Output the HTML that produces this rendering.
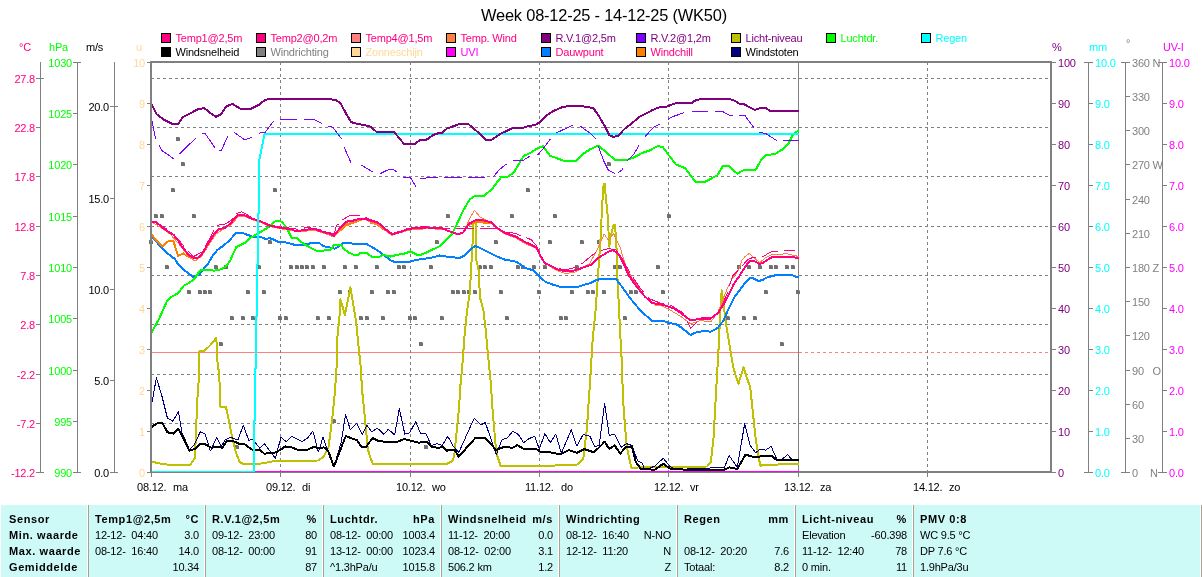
<!DOCTYPE html>
<html><head><meta charset="utf-8"><style>
html,body{margin:0;padding:0;background:#fff;width:1202px;height:577px;overflow:hidden}
svg{display:block;will-change:transform}
text{font-family:"Liberation Sans",sans-serif;letter-spacing:-0.2px}
text[font-weight="bold"]{letter-spacing:0.6px}
</style></head><body>
<svg width="1202" height="577" viewBox="0 0 1202 577">
<rect x="1" y="505" width="1201" height="72" fill="#CDFAF7"/>
<rect x="87" y="505" width="1" height="72" fill="#FFFFFF"/>
<rect x="88" y="505" width="1" height="72" fill="#A8A094"/>
<rect x="204" y="505" width="1" height="72" fill="#FFFFFF"/>
<rect x="205" y="505" width="1" height="72" fill="#A8A094"/>
<rect x="322" y="505" width="1" height="72" fill="#FFFFFF"/>
<rect x="323" y="505" width="1" height="72" fill="#A8A094"/>
<rect x="440" y="505" width="1" height="72" fill="#FFFFFF"/>
<rect x="441" y="505" width="1" height="72" fill="#A8A094"/>
<rect x="558" y="505" width="1" height="72" fill="#FFFFFF"/>
<rect x="559" y="505" width="1" height="72" fill="#A8A094"/>
<rect x="676" y="505" width="1" height="72" fill="#FFFFFF"/>
<rect x="677" y="505" width="1" height="72" fill="#A8A094"/>
<rect x="794" y="505" width="1" height="72" fill="#FFFFFF"/>
<rect x="795" y="505" width="1" height="72" fill="#A8A094"/>
<rect x="912" y="505" width="1" height="72" fill="#FFFFFF"/>
<rect x="913" y="505" width="1" height="72" fill="#A8A094"/>
<rect x="1200" y="505" width="1" height="72" fill="#FFFFFF"/>
<rect x="1201" y="505" width="1" height="72" fill="#A8A094"/>
<g shape-rendering="crispEdges">
<text x="604" y="21" fill="#000" text-anchor="middle" font-size="16.4" font-weight="normal" >Week 08-12-25 - 14-12-25 (WK50)</text>
<rect x="161.5" y="33.5" width="9" height="9" fill="#FF0080" stroke="#000" stroke-width="1"/>
<text x="175.5" y="42" fill="#FF0080" text-anchor="start" font-size="11" font-weight="normal" >Temp1@2,5m</text>
<rect x="256.5" y="33.5" width="9" height="9" fill="#FF0080" stroke="#000" stroke-width="1"/>
<text x="270.5" y="42" fill="#FF0080" text-anchor="start" font-size="11" font-weight="normal" >Temp2@0,2m</text>
<rect x="351.5" y="33.5" width="9" height="9" fill="#FF8080" stroke="#000" stroke-width="1"/>
<text x="365.5" y="42" fill="#FF0080" text-anchor="start" font-size="11" font-weight="normal" >Temp4@1,5m</text>
<rect x="446.5" y="33.5" width="9" height="9" fill="#FF8040" stroke="#000" stroke-width="1"/>
<text x="460.5" y="42" fill="#FF0080" text-anchor="start" font-size="11" font-weight="normal" >Temp. Wind</text>
<rect x="541.5" y="33.5" width="9" height="9" fill="#800080" stroke="#000" stroke-width="1"/>
<text x="555.5" y="42" fill="#800080" text-anchor="start" font-size="11" font-weight="normal" >R.V.1@2,5m</text>
<rect x="636.5" y="33.5" width="9" height="9" fill="#8000FF" stroke="#000" stroke-width="1"/>
<text x="650.5" y="42" fill="#800080" text-anchor="start" font-size="11" font-weight="normal" >R.V.2@1,2m</text>
<rect x="731.5" y="33.5" width="9" height="9" fill="#C0C000" stroke="#000" stroke-width="1"/>
<text x="745.5" y="42" fill="#800080" text-anchor="start" font-size="11" font-weight="normal" >Licht-niveau</text>
<rect x="826.5" y="33.5" width="9" height="9" fill="#00FF00" stroke="#000" stroke-width="1"/>
<text x="840.5" y="42" fill="#00FF00" text-anchor="start" font-size="11" font-weight="normal" >Luchtdr.</text>
<rect x="921.5" y="33.5" width="9" height="9" fill="#00FFFF" stroke="#000" stroke-width="1"/>
<text x="935.5" y="42" fill="#00FFFF" text-anchor="start" font-size="11" font-weight="normal" >Regen</text>
<rect x="161.5" y="47.5" width="9" height="9" fill="#000000" stroke="#000" stroke-width="1"/>
<text x="175.5" y="56" fill="#000" text-anchor="start" font-size="11" font-weight="normal" >Windsnelheid</text>
<rect x="256.5" y="47.5" width="9" height="9" fill="#808080" stroke="#000" stroke-width="1"/>
<text x="270.5" y="56" fill="#808080" text-anchor="start" font-size="11" font-weight="normal" >Windrichting</text>
<rect x="351.5" y="47.5" width="9" height="9" fill="#FFD898" stroke="#000" stroke-width="1"/>
<text x="365.5" y="56" fill="#FFD898" text-anchor="start" font-size="11" font-weight="normal" >Zonneschijn</text>
<rect x="446.5" y="47.5" width="9" height="9" fill="#FF00FF" stroke="#000" stroke-width="1"/>
<text x="460.5" y="56" fill="#FF00FF" text-anchor="start" font-size="11" font-weight="normal" >UVI</text>
<rect x="541.5" y="47.5" width="9" height="9" fill="#0080FF" stroke="#000" stroke-width="1"/>
<text x="555.5" y="56" fill="#FF0080" text-anchor="start" font-size="11" font-weight="normal" >Dauwpunt</text>
<rect x="636.5" y="47.5" width="9" height="9" fill="#FF8000" stroke="#000" stroke-width="1"/>
<text x="650.5" y="56" fill="#FF0080" text-anchor="start" font-size="11" font-weight="normal" >Windchill</text>
<rect x="731.5" y="47.5" width="9" height="9" fill="#000080" stroke="#000" stroke-width="1"/>
<text x="745.5" y="56" fill="#000" text-anchor="start" font-size="11" font-weight="normal" >Windstoten</text>
<line x1="152" y1="352.5" x2="799" y2="352.5" stroke="#FF8080" stroke-width="1" />
<line x1="799" y1="352.5" x2="1050" y2="352.5" stroke="#FF8080" stroke-width="1" stroke-dasharray="3 3"/>
<line x1="151" y1="78.5" x2="1050" y2="78.5" stroke="#808080" stroke-width="1" stroke-dasharray="3 3"/>
<line x1="151" y1="127.5" x2="1050" y2="127.5" stroke="#808080" stroke-width="1" stroke-dasharray="3 3"/>
<line x1="151" y1="176.5" x2="1050" y2="176.5" stroke="#808080" stroke-width="1" stroke-dasharray="3 3"/>
<line x1="151" y1="226.5" x2="1050" y2="226.5" stroke="#808080" stroke-width="1" stroke-dasharray="3 3"/>
<line x1="151" y1="275.5" x2="1050" y2="275.5" stroke="#808080" stroke-width="1" stroke-dasharray="3 3"/>
<line x1="151" y1="324.5" x2="1050" y2="324.5" stroke="#808080" stroke-width="1" stroke-dasharray="3 3"/>
<line x1="151" y1="374.5" x2="1050" y2="374.5" stroke="#808080" stroke-width="1" stroke-dasharray="3 3"/>
<line x1="151" y1="423.5" x2="1050" y2="423.5" stroke="#808080" stroke-width="1" stroke-dasharray="3 3"/>
<line x1="280.5" y1="62" x2="280.5" y2="471" stroke="#808080" stroke-width="1" stroke-dasharray="3 3"/>
<line x1="280.5" y1="473" x2="280.5" y2="477" stroke="#808080" stroke-width="1" />
<line x1="410.5" y1="62" x2="410.5" y2="471" stroke="#808080" stroke-width="1" stroke-dasharray="3 3"/>
<line x1="410.5" y1="473" x2="410.5" y2="477" stroke="#808080" stroke-width="1" />
<line x1="539.5" y1="62" x2="539.5" y2="471" stroke="#808080" stroke-width="1" stroke-dasharray="3 3"/>
<line x1="539.5" y1="473" x2="539.5" y2="477" stroke="#808080" stroke-width="1" />
<line x1="668.5" y1="62" x2="668.5" y2="471" stroke="#808080" stroke-width="1" stroke-dasharray="3 3"/>
<line x1="668.5" y1="473" x2="668.5" y2="477" stroke="#808080" stroke-width="1" />
<line x1="798.5" y1="63" x2="798.5" y2="477" stroke="#808080" stroke-width="1" />
<line x1="927.5" y1="62" x2="927.5" y2="471" stroke="#808080" stroke-width="1" stroke-dasharray="3 3"/>
<line x1="927.5" y1="473" x2="927.5" y2="477" stroke="#808080" stroke-width="1" />
<rect x="176" y="137" width="4" height="4" fill="#707070"/>
<rect x="179" y="137" width="1" height="1" fill="#B8B8B8"/>
<rect x="181" y="162" width="4" height="4" fill="#707070"/>
<rect x="184" y="162" width="1" height="1" fill="#B8B8B8"/>
<rect x="607" y="162" width="4" height="4" fill="#707070"/>
<rect x="610" y="162" width="1" height="1" fill="#B8B8B8"/>
<rect x="171" y="188" width="4" height="4" fill="#707070"/>
<rect x="174" y="188" width="1" height="1" fill="#B8B8B8"/>
<rect x="273" y="188" width="4" height="4" fill="#707070"/>
<rect x="276" y="188" width="1" height="1" fill="#B8B8B8"/>
<rect x="526" y="188" width="4" height="4" fill="#707070"/>
<rect x="529" y="188" width="1" height="1" fill="#B8B8B8"/>
<rect x="154" y="214" width="4" height="4" fill="#707070"/>
<rect x="157" y="214" width="1" height="1" fill="#B8B8B8"/>
<rect x="160" y="214" width="4" height="4" fill="#707070"/>
<rect x="163" y="214" width="1" height="1" fill="#B8B8B8"/>
<rect x="192" y="214" width="4" height="4" fill="#707070"/>
<rect x="195" y="214" width="1" height="1" fill="#B8B8B8"/>
<rect x="446" y="214" width="4" height="4" fill="#707070"/>
<rect x="449" y="214" width="1" height="1" fill="#B8B8B8"/>
<rect x="510" y="214" width="4" height="4" fill="#707070"/>
<rect x="513" y="214" width="1" height="1" fill="#B8B8B8"/>
<rect x="553" y="214" width="4" height="4" fill="#707070"/>
<rect x="556" y="214" width="1" height="1" fill="#B8B8B8"/>
<rect x="667" y="214" width="4" height="4" fill="#707070"/>
<rect x="670" y="214" width="1" height="1" fill="#B8B8B8"/>
<rect x="149" y="240" width="4" height="4" fill="#707070"/>
<rect x="152" y="240" width="1" height="1" fill="#B8B8B8"/>
<rect x="268" y="240" width="4" height="4" fill="#707070"/>
<rect x="271" y="240" width="1" height="1" fill="#B8B8B8"/>
<rect x="435" y="240" width="4" height="4" fill="#707070"/>
<rect x="438" y="240" width="1" height="1" fill="#B8B8B8"/>
<rect x="494" y="240" width="4" height="4" fill="#707070"/>
<rect x="497" y="240" width="1" height="1" fill="#B8B8B8"/>
<rect x="548" y="240" width="4" height="4" fill="#707070"/>
<rect x="551" y="240" width="1" height="1" fill="#B8B8B8"/>
<rect x="580" y="240" width="4" height="4" fill="#707070"/>
<rect x="583" y="240" width="1" height="1" fill="#B8B8B8"/>
<rect x="597" y="240" width="4" height="4" fill="#707070"/>
<rect x="600" y="240" width="1" height="1" fill="#B8B8B8"/>
<rect x="165" y="265" width="4" height="4" fill="#707070"/>
<rect x="168" y="265" width="1" height="1" fill="#B8B8B8"/>
<rect x="214" y="265" width="4" height="4" fill="#707070"/>
<rect x="217" y="265" width="1" height="1" fill="#B8B8B8"/>
<rect x="224" y="265" width="4" height="4" fill="#707070"/>
<rect x="227" y="265" width="1" height="1" fill="#B8B8B8"/>
<rect x="257" y="265" width="4" height="4" fill="#707070"/>
<rect x="260" y="265" width="1" height="1" fill="#B8B8B8"/>
<rect x="289" y="265" width="4" height="4" fill="#707070"/>
<rect x="292" y="265" width="1" height="1" fill="#B8B8B8"/>
<rect x="295" y="265" width="4" height="4" fill="#707070"/>
<rect x="298" y="265" width="1" height="1" fill="#B8B8B8"/>
<rect x="300" y="265" width="4" height="4" fill="#707070"/>
<rect x="303" y="265" width="1" height="1" fill="#B8B8B8"/>
<rect x="305" y="265" width="4" height="4" fill="#707070"/>
<rect x="308" y="265" width="1" height="1" fill="#B8B8B8"/>
<rect x="311" y="265" width="4" height="4" fill="#707070"/>
<rect x="314" y="265" width="1" height="1" fill="#B8B8B8"/>
<rect x="322" y="265" width="4" height="4" fill="#707070"/>
<rect x="325" y="265" width="1" height="1" fill="#B8B8B8"/>
<rect x="343" y="265" width="4" height="4" fill="#707070"/>
<rect x="346" y="265" width="1" height="1" fill="#B8B8B8"/>
<rect x="354" y="265" width="4" height="4" fill="#707070"/>
<rect x="357" y="265" width="1" height="1" fill="#B8B8B8"/>
<rect x="375" y="265" width="4" height="4" fill="#707070"/>
<rect x="378" y="265" width="1" height="1" fill="#B8B8B8"/>
<rect x="397" y="265" width="4" height="4" fill="#707070"/>
<rect x="400" y="265" width="1" height="1" fill="#B8B8B8"/>
<rect x="402" y="265" width="4" height="4" fill="#707070"/>
<rect x="405" y="265" width="1" height="1" fill="#B8B8B8"/>
<rect x="429" y="265" width="4" height="4" fill="#707070"/>
<rect x="432" y="265" width="1" height="1" fill="#B8B8B8"/>
<rect x="478" y="265" width="4" height="4" fill="#707070"/>
<rect x="481" y="265" width="1" height="1" fill="#B8B8B8"/>
<rect x="483" y="265" width="4" height="4" fill="#707070"/>
<rect x="486" y="265" width="1" height="1" fill="#B8B8B8"/>
<rect x="489" y="265" width="4" height="4" fill="#707070"/>
<rect x="492" y="265" width="1" height="1" fill="#B8B8B8"/>
<rect x="516" y="265" width="4" height="4" fill="#707070"/>
<rect x="519" y="265" width="1" height="1" fill="#B8B8B8"/>
<rect x="521" y="265" width="4" height="4" fill="#707070"/>
<rect x="524" y="265" width="1" height="1" fill="#B8B8B8"/>
<rect x="532" y="265" width="4" height="4" fill="#707070"/>
<rect x="535" y="265" width="1" height="1" fill="#B8B8B8"/>
<rect x="543" y="265" width="4" height="4" fill="#707070"/>
<rect x="546" y="265" width="1" height="1" fill="#B8B8B8"/>
<rect x="575" y="265" width="4" height="4" fill="#707070"/>
<rect x="578" y="265" width="1" height="1" fill="#B8B8B8"/>
<rect x="613" y="265" width="4" height="4" fill="#707070"/>
<rect x="616" y="265" width="1" height="1" fill="#B8B8B8"/>
<rect x="618" y="265" width="4" height="4" fill="#707070"/>
<rect x="621" y="265" width="1" height="1" fill="#B8B8B8"/>
<rect x="656" y="265" width="4" height="4" fill="#707070"/>
<rect x="659" y="265" width="1" height="1" fill="#B8B8B8"/>
<rect x="737" y="265" width="4" height="4" fill="#707070"/>
<rect x="740" y="265" width="1" height="1" fill="#B8B8B8"/>
<rect x="747" y="265" width="4" height="4" fill="#707070"/>
<rect x="750" y="265" width="1" height="1" fill="#B8B8B8"/>
<rect x="758" y="265" width="4" height="4" fill="#707070"/>
<rect x="761" y="265" width="1" height="1" fill="#B8B8B8"/>
<rect x="769" y="265" width="4" height="4" fill="#707070"/>
<rect x="772" y="265" width="1" height="1" fill="#B8B8B8"/>
<rect x="774" y="265" width="4" height="4" fill="#707070"/>
<rect x="777" y="265" width="1" height="1" fill="#B8B8B8"/>
<rect x="785" y="265" width="4" height="4" fill="#707070"/>
<rect x="788" y="265" width="1" height="1" fill="#B8B8B8"/>
<rect x="791" y="265" width="4" height="4" fill="#707070"/>
<rect x="794" y="265" width="1" height="1" fill="#B8B8B8"/>
<rect x="187" y="290" width="4" height="4" fill="#707070"/>
<rect x="190" y="290" width="1" height="1" fill="#B8B8B8"/>
<rect x="198" y="290" width="4" height="4" fill="#707070"/>
<rect x="201" y="290" width="1" height="1" fill="#B8B8B8"/>
<rect x="203" y="290" width="4" height="4" fill="#707070"/>
<rect x="206" y="290" width="1" height="1" fill="#B8B8B8"/>
<rect x="208" y="290" width="4" height="4" fill="#707070"/>
<rect x="211" y="290" width="1" height="1" fill="#B8B8B8"/>
<rect x="246" y="290" width="4" height="4" fill="#707070"/>
<rect x="249" y="290" width="1" height="1" fill="#B8B8B8"/>
<rect x="262" y="290" width="4" height="4" fill="#707070"/>
<rect x="265" y="290" width="1" height="1" fill="#B8B8B8"/>
<rect x="338" y="290" width="4" height="4" fill="#707070"/>
<rect x="341" y="290" width="1" height="1" fill="#B8B8B8"/>
<rect x="348" y="290" width="4" height="4" fill="#707070"/>
<rect x="351" y="290" width="1" height="1" fill="#B8B8B8"/>
<rect x="370" y="290" width="4" height="4" fill="#707070"/>
<rect x="373" y="290" width="1" height="1" fill="#B8B8B8"/>
<rect x="386" y="290" width="4" height="4" fill="#707070"/>
<rect x="389" y="290" width="1" height="1" fill="#B8B8B8"/>
<rect x="392" y="290" width="4" height="4" fill="#707070"/>
<rect x="395" y="290" width="1" height="1" fill="#B8B8B8"/>
<rect x="451" y="290" width="4" height="4" fill="#707070"/>
<rect x="454" y="290" width="1" height="1" fill="#B8B8B8"/>
<rect x="456" y="290" width="4" height="4" fill="#707070"/>
<rect x="459" y="290" width="1" height="1" fill="#B8B8B8"/>
<rect x="462" y="290" width="4" height="4" fill="#707070"/>
<rect x="465" y="290" width="1" height="1" fill="#B8B8B8"/>
<rect x="467" y="290" width="4" height="4" fill="#707070"/>
<rect x="470" y="290" width="1" height="1" fill="#B8B8B8"/>
<rect x="473" y="290" width="4" height="4" fill="#707070"/>
<rect x="476" y="290" width="1" height="1" fill="#B8B8B8"/>
<rect x="499" y="290" width="4" height="4" fill="#707070"/>
<rect x="502" y="290" width="1" height="1" fill="#B8B8B8"/>
<rect x="537" y="290" width="4" height="4" fill="#707070"/>
<rect x="540" y="290" width="1" height="1" fill="#B8B8B8"/>
<rect x="570" y="290" width="4" height="4" fill="#707070"/>
<rect x="573" y="290" width="1" height="1" fill="#B8B8B8"/>
<rect x="586" y="290" width="4" height="4" fill="#707070"/>
<rect x="589" y="290" width="1" height="1" fill="#B8B8B8"/>
<rect x="591" y="290" width="4" height="4" fill="#707070"/>
<rect x="594" y="290" width="1" height="1" fill="#B8B8B8"/>
<rect x="602" y="290" width="4" height="4" fill="#707070"/>
<rect x="605" y="290" width="1" height="1" fill="#B8B8B8"/>
<rect x="629" y="290" width="4" height="4" fill="#707070"/>
<rect x="632" y="290" width="1" height="1" fill="#B8B8B8"/>
<rect x="634" y="290" width="4" height="4" fill="#707070"/>
<rect x="637" y="290" width="1" height="1" fill="#B8B8B8"/>
<rect x="661" y="290" width="4" height="4" fill="#707070"/>
<rect x="664" y="290" width="1" height="1" fill="#B8B8B8"/>
<rect x="764" y="290" width="4" height="4" fill="#707070"/>
<rect x="767" y="290" width="1" height="1" fill="#B8B8B8"/>
<rect x="796" y="290" width="4" height="4" fill="#707070"/>
<rect x="799" y="290" width="1" height="1" fill="#B8B8B8"/>
<rect x="230" y="316" width="4" height="4" fill="#707070"/>
<rect x="233" y="316" width="1" height="1" fill="#B8B8B8"/>
<rect x="241" y="316" width="4" height="4" fill="#707070"/>
<rect x="244" y="316" width="1" height="1" fill="#B8B8B8"/>
<rect x="251" y="316" width="4" height="4" fill="#707070"/>
<rect x="254" y="316" width="1" height="1" fill="#B8B8B8"/>
<rect x="278" y="316" width="4" height="4" fill="#707070"/>
<rect x="281" y="316" width="1" height="1" fill="#B8B8B8"/>
<rect x="284" y="316" width="4" height="4" fill="#707070"/>
<rect x="287" y="316" width="1" height="1" fill="#B8B8B8"/>
<rect x="316" y="316" width="4" height="4" fill="#707070"/>
<rect x="319" y="316" width="1" height="1" fill="#B8B8B8"/>
<rect x="327" y="316" width="4" height="4" fill="#707070"/>
<rect x="330" y="316" width="1" height="1" fill="#B8B8B8"/>
<rect x="359" y="316" width="4" height="4" fill="#707070"/>
<rect x="362" y="316" width="1" height="1" fill="#B8B8B8"/>
<rect x="365" y="316" width="4" height="4" fill="#707070"/>
<rect x="368" y="316" width="1" height="1" fill="#B8B8B8"/>
<rect x="381" y="316" width="4" height="4" fill="#707070"/>
<rect x="384" y="316" width="1" height="1" fill="#B8B8B8"/>
<rect x="408" y="316" width="4" height="4" fill="#707070"/>
<rect x="411" y="316" width="1" height="1" fill="#B8B8B8"/>
<rect x="413" y="316" width="4" height="4" fill="#707070"/>
<rect x="416" y="316" width="1" height="1" fill="#B8B8B8"/>
<rect x="440" y="316" width="4" height="4" fill="#707070"/>
<rect x="443" y="316" width="1" height="1" fill="#B8B8B8"/>
<rect x="505" y="316" width="4" height="4" fill="#707070"/>
<rect x="508" y="316" width="1" height="1" fill="#B8B8B8"/>
<rect x="559" y="316" width="4" height="4" fill="#707070"/>
<rect x="562" y="316" width="1" height="1" fill="#B8B8B8"/>
<rect x="564" y="316" width="4" height="4" fill="#707070"/>
<rect x="567" y="316" width="1" height="1" fill="#B8B8B8"/>
<rect x="623" y="316" width="4" height="4" fill="#707070"/>
<rect x="626" y="316" width="1" height="1" fill="#B8B8B8"/>
<rect x="726" y="316" width="4" height="4" fill="#707070"/>
<rect x="729" y="316" width="1" height="1" fill="#B8B8B8"/>
<rect x="742" y="316" width="4" height="4" fill="#707070"/>
<rect x="745" y="316" width="1" height="1" fill="#B8B8B8"/>
<rect x="753" y="316" width="4" height="4" fill="#707070"/>
<rect x="756" y="316" width="1" height="1" fill="#B8B8B8"/>
<rect x="219" y="342" width="4" height="4" fill="#707070"/>
<rect x="222" y="342" width="1" height="1" fill="#B8B8B8"/>
<rect x="419" y="342" width="4" height="4" fill="#707070"/>
<rect x="422" y="342" width="1" height="1" fill="#B8B8B8"/>
<rect x="780" y="342" width="4" height="4" fill="#707070"/>
<rect x="783" y="342" width="1" height="1" fill="#B8B8B8"/>
<rect x="332" y="419" width="4" height="4" fill="#707070"/>
<rect x="335" y="419" width="1" height="1" fill="#B8B8B8"/>
<rect x="235" y="445" width="4" height="4" fill="#707070"/>
<rect x="238" y="445" width="1" height="1" fill="#B8B8B8"/>
<rect x="424" y="445" width="4" height="4" fill="#707070"/>
<rect x="427" y="445" width="1" height="1" fill="#B8B8B8"/>
<polyline points="151.8,461.6 159.2,463.4 168.3,464.7 190.3,464.7 194.8,458.3 195.8,438.2 197.2,401.6 198.5,383.3 199.4,365.0 199.4,351.5 204.9,350.5 210.4,345.1 216.3,337.7 217.7,365.0 218.6,370.0 219.6,383.3 220.5,407.1 226.0,407.1 228.7,419.9 232.4,438.2 236.0,452.8 239.7,462.0 243.3,463.8 259.8,463.8 274.5,461.0 318.4,460.5 323.9,456.5 328.5,447.3 332.1,419.9 334.9,392.4 336.7,365.0 337.6,333.2 339.4,318.5 340.4,299.3 344.9,314.9 350.4,287.4 355.9,320.4 360.5,365.0 362.3,392.4 365.1,419.9 367.8,449.1 370.0,456.5 372.7,463.8 446.9,463.8 452.4,461.0 454.2,456.5 456.0,438.2 458.8,410.7 460.6,383.3 462.4,365.0 464.3,338.7 467.0,311.2 469.8,292.9 471.0,271.0 471.6,260.0 473.0,235.0 473.5,222.5 475.5,222.5 476.2,235.0 476.2,260.0 478.9,271.0 479.8,296.6 483.5,311.2 485.7,329.5 487.1,346.0 489.0,365.0 490.8,383.3 492.6,410.7 496.3,452.8 500.9,466.5 516.4,465.6 553.0,465.6 576.8,464.7 583.2,459.2 586.9,429.0 588.7,401.6 590.0,383.3 592.7,338.7 595.5,311.2 597.3,285.6 598.7,264.9 600.3,243.6 601.0,228.0 602.6,198.4 603.7,183.6 604.9,183.6 605.7,196.8 607.3,210.8 608.0,221.8 609.3,246.7 610.4,237.3 613.5,224.9 615.1,224.9 616.6,249.8 617.5,278.3 618.4,296.6 620.2,333.2 622.0,365.0 622.9,397.9 624.8,423.5 626.6,445.5 631.2,467.6 707.1,466.5 710.8,462.0 713.5,438.2 715.6,400.0 718.7,346.5 720.8,300.8 721.8,290.4 723.9,307.0 726.0,323.6 729.1,342.3 733.2,367.3 738.4,383.9 743.6,367.3 746.8,377.7 750.2,387.0 752.9,412.6 755.6,438.2 760.2,465.6 773.0,464.7 798.7,463.8" fill="none" stroke="#C0C000" stroke-width="2" stroke-linejoin="round" />
<polyline points="151.8,403.4 156.4,377.8 161.9,396.1 167.4,418.0 172.9,421.3 178.4,411.6 182.0,432.7 189.4,449.5 193.9,445.5 200.3,431.8 204.9,433.6 210.4,451.0 216.8,437.3 221.4,446.4 225.0,440.0 230.5,437.3 237.9,440.0 243.3,425.4 248.8,440.4 252.5,439.1 259.8,448.2 264.4,443.7 275.4,458.3 280.9,437.3 286.4,441.8 291.8,436.3 301.9,441.5 307.4,438.2 312.9,431.2 318.4,451.9 323.0,437.3 326.6,447.3 333.9,467.1 341.3,441.8 345.5,414.4 350.4,429.9 356.8,423.5 362.3,434.5 366.9,425.4 371.8,431.8 377.3,428.1 383.7,434.1 388.3,429.4 394.7,434.9 399.3,408.5 404.8,434.1 409.4,433.0 415.8,421.7 420.3,433.0 425.8,433.6 431.3,445.5 436.8,443.7 442.3,445.5 447.8,436.3 453.3,446.4 458.8,452.4 474.3,418.0 480.7,425.0 485.3,422.6 496.3,454.6 501.8,440.0 507.3,437.8 512.8,431.2 518.3,434.5 523.7,442.7 529.2,438.5 534.7,436.3 539.3,449.1 544.8,433.6 550.3,442.7 555.8,434.1 561.3,453.2 571.3,429.9 576.8,445.9 583.2,434.5 590.0,436.3 594.6,446.4 599.2,445.5 604.6,403.4 609.2,435.4 614.7,434.1 621.1,447.3 626.6,443.7 632.1,445.5 637.6,461.0 642.2,462.9 644.9,470.0 655.0,466.0 663.2,458.3 669.6,466.0 675.0,469.5 724.5,467.4 729.1,455.5 737.3,467.4 744.7,423.5 750.2,445.5 755.6,452.8 760.2,449.1 765.7,450.1 771.2,446.4 776.7,459.2 782.2,459.2 787.7,454.6 792.2,460.1 798.7,459.8" fill="none" stroke="#000080" stroke-width="1" stroke-linejoin="round" />
<polyline points="151.8,426.8 157.3,423.2 162.8,423.5 167.4,432.3 173.8,433.6 178.4,429.0 182.9,437.3 189.4,450.6 194.8,449.1 200.3,444.0 204.9,444.0 211.3,447.7 216.8,447.0 222.3,447.7 226.9,440.9 234.2,441.5 239.7,444.0 244.3,444.0 249.8,448.2 254.3,450.6 259.8,450.1 264.4,453.7 269.0,453.2 276.3,452.4 285.4,446.4 291.8,447.3 298.3,450.1 306.5,450.1 313.8,447.0 318.4,448.2 323.9,447.3 328.5,451.9 333.9,466.5 341.3,447.3 345.8,436.0 351.3,438.2 356.8,440.0 361.4,447.0 366.0,447.0 370.0,441.5 372.7,438.2 378.2,440.9 388.3,442.2 396.5,442.2 403.9,439.1 412.1,440.9 418.5,442.7 426.7,441.8 432.2,447.3 439.6,447.7 442.3,446.4 446.9,450.6 454.2,449.5 458.8,456.8 467.0,447.3 475.2,438.2 485.3,438.2 496.3,450.1 503.6,447.0 512.8,447.7 517.3,445.1 523.7,448.8 536.6,449.1 541.1,452.4 550.3,452.4 560.3,454.3 568.6,450.1 576.8,452.8 584.1,449.1 590.0,451.0 593.7,452.4 599.2,447.3 604.6,441.8 609.2,448.8 614.7,445.5 620.2,453.7 625.7,447.0 632.1,447.3 635.8,462.0 641.2,469.3 655.0,469.6 663.2,463.8 670.5,468.9 685.2,469.6 724.5,469.6 729.1,467.4 737.3,468.9 745.6,454.6 754.7,457.4 765.7,455.5 771.2,455.5 776.7,460.1 798.7,460.1" fill="none" stroke="#000000" stroke-width="2" stroke-linejoin="round" />
<polyline points="151.6,236.7 156.2,241.4 160.4,246.6 165.6,251.8 170.8,256.0 175.0,259.1 178.1,264.3 182.9,269.1 193.0,276.8 199.4,274.6 204.9,267.3 207.7,264.3 212.4,256.0 217.6,249.7 222.8,246.1 229.0,240.9 233.2,236.2 236.3,233.1 242.5,232.9 246.7,234.6 252.9,236.7 260.2,236.7 265.4,238.8 270.0,238.3 274.2,239.8 278.3,241.9 285.6,242.4 290.8,243.7 295.0,245.0 303.3,245.0 309.5,243.5 313.7,242.6 318.9,242.6 323.0,246.1 328.2,247.1 334.5,248.7 338.6,246.6 342.8,243.0 349.0,242.6 353.2,244.0 366.7,244.0 371.9,247.1 377.1,250.2 382.3,253.9 386.5,257.0 390.0,260.1 395.6,262.4 406.6,262.4 417.6,259.7 430.4,257.9 439.6,255.5 448.7,257.0 459.7,257.9 465.2,255.1 472.5,247.8 475.2,246.0 479.8,247.8 489.0,252.4 498.1,257.0 504.5,259.5 516.4,261.8 525.6,268.2 532.9,270.1 540.2,277.4 545.7,282.0 553.0,284.7 562.2,287.4 569.5,287.4 578.7,286.5 584.1,284.7 590.0,283.2 595.5,280.5 601.0,278.7 615.6,278.7 621.1,285.6 630.3,298.4 639.4,309.4 652.2,321.3 663.2,320.7 668.7,323.1 676.0,324.0 681.5,327.7 690.7,335.0 696.2,332.3 703.5,331.0 710.8,331.7 718.1,327.7 723.6,320.4 729.1,307.6 734.6,296.6 739.9,290.0 744.1,284.1 749.3,278.4 753.4,278.4 758.6,281.0 762.8,279.9 765.9,277.8 771.1,276.3 777.3,274.9 791.9,274.9 796.1,277.0 798.7,277.0" fill="none" stroke="#0080FF" stroke-width="2" stroke-linejoin="round" />
<polyline points="151.8,332.3 159.2,318.5 167.4,300.2 172.0,296.6 178.4,292.9 183.9,285.6 189.4,282.9 194.8,278.3 200.3,270.1 206.7,270.1 215.0,270.6 221.4,269.1 226.9,265.5 230.5,260.0 232.1,255.9 236.3,247.1 240.5,245.0 244.6,243.0 249.8,238.3 255.0,235.2 262.3,231.0 270.0,226.3 274.2,221.6 279.4,220.6 281.4,221.6 285.6,226.3 288.7,232.0 291.8,237.8 297.0,237.8 301.2,241.9 305.4,245.0 311.6,248.2 316.8,250.8 323.0,250.8 326.2,249.7 330.3,249.7 334.5,244.5 340.7,244.5 343.8,248.7 349.0,252.8 354.2,254.9 358.4,254.7 360.5,252.8 366.7,252.8 371.9,257.0 379.2,257.0 383.7,254.8 390.1,256.6 397.5,254.8 403.9,253.7 410.3,251.5 418.5,255.5 424.9,253.3 432.2,249.6 438.6,246.9 445.0,241.4 451.4,235.0 456.9,224.0 463.3,210.3 469.8,199.3 475.2,195.7 483.5,196.2 491.7,189.3 500.9,177.4 508.2,176.5 513.7,172.8 520.1,161.8 523.7,156.0 531.1,152.4 538.4,147.8 543.0,146.3 550.3,156.0 558.5,158.8 565.8,161.5 576.8,160.6 584.1,153.3 590.0,149.3 598.2,145.6 606.5,152.4 614.7,159.7 627.5,159.7 634.8,157.0 642.2,152.9 649.5,150.5 657.7,146.0 663.2,147.4 668.7,155.1 676.0,164.6 685.2,168.2 695.2,181.6 705.3,181.6 717.2,175.5 722.7,166.4 729.1,166.4 737.3,173.7 743.7,170.1 755.6,170.1 761.1,160.0 765.2,155.5 775.8,153.7 782.2,149.6 788.6,143.2 793.2,134.1 798.7,130.4" fill="none" stroke="#00FF00" stroke-width="2" stroke-linejoin="round" />
<polyline points="151.6,234.6 156.2,240.4 162.5,246.1 168.7,240.9 173.4,240.9 178.1,256.0 183.3,253.4 187.4,256.0 193.7,259.0" fill="none" stroke="#FF8000" stroke-width="2" stroke-linejoin="round" />
<polyline points="336.5,233.0 340.7,230.0 344.9,225.8 353.2,222.7 361.5,219.6 366.7,219.0" fill="none" stroke="#FF8000" stroke-width="2" stroke-linejoin="round" />
<polyline points="370.0,222.5 377.3,224.5 384.6,230.0" fill="none" stroke="#FF8000" stroke-width="2" stroke-linejoin="round" />
<polyline points="468.8,225.0 475.2,221.5 483.5,222.5 490.8,223.5" fill="none" stroke="#FF8000" stroke-width="2" stroke-linejoin="round" />
<polyline points="151.6,222.0 160.0,227.0 170.0,234.0 178.0,243.0 186.0,253.0 195.0,261.2 202.0,256.0 210.0,243.0 216.0,234.0 222.8,229.5 231.0,225.0 238.0,217.0 245.0,216.5 253.0,220.0 262.0,223.0 270.0,226.5 285.0,229.5 300.0,231.5 315.0,230.5 328.0,234.5 334.0,237.0 340.7,229.0 345.0,224.0 353.0,222.0 364.0,219.0 371.0,222.5 380.0,225.5 385.0,230.5 392.0,235.5 399.0,233.0 410.0,230.0 430.0,228.5 445.0,230.0 457.9,235.0 463.3,233.0 469.8,218.5 474.3,210.3 479.8,216.7 490.0,222.0 498.0,229.5 505.0,234.0 516.0,238.0 524.0,243.0 533.0,247.0 537.0,249.0 542.0,259.0 548.5,265.5 556.7,270.5 565.8,273.5 575.0,272.0 589.4,263.8 595.6,252.9 604.2,234.2 608.8,240.5 613.5,233.4 620.5,248.2 623.6,259.2 628.4,272.0 636.0,284.0 646.0,298.0 655.0,305.0 662.0,306.0 670.0,310.0 680.0,316.0 690.7,324.0 700.0,320.5 710.8,322.0 718.0,312.0 727.4,288.2 731.6,279.9 738.9,269.5 742.0,260.2 745.1,256.5 749.3,253.4 754.5,258.1 759.7,262.8 764.9,258.1 772.1,254.4 778.4,255.0 785.7,253.4 790.9,254.7 798.7,256.5" fill="none" stroke="#FF8040" stroke-width="1" stroke-linejoin="round" />
<polyline points="151.6,221.0 160.0,224.5 170.0,231.5 178.0,239.0 186.0,249.0 193.7,256.5 202.0,252.0 210.0,238.0 216.5,225.3 224.9,224.2 231.0,220.5 235.3,213.8 241.5,211.8 246.7,214.4 253.0,218.5 262.0,221.5 270.0,225.0 285.0,227.5 300.0,229.5 306.0,227.5 315.0,228.5 328.0,232.0 334.0,234.0 336.5,225.8 342.8,219.6 349.0,215.9 356.3,215.4 364.6,216.4 367.7,218.5 372.0,220.0 377.0,222.0 385.0,228.0 392.0,233.5 399.0,231.5 410.0,228.6 494.0,228.6 498.0,229.0 505.0,232.0 514.6,233.2 531.1,239.6 536.6,246.0 541.1,256.0 545.7,263.5 556.7,268.0 565.8,270.0 578.7,266.5 590.0,257.0 597.3,251.5 608.3,248.7 615.6,249.6 620.0,254.0 625.0,264.0 632.0,276.0 640.0,288.0 650.0,299.0 660.0,303.0 672.0,306.0 683.0,313.0 690.7,328.6 701.6,317.5 712.0,318.0 720.0,310.0 727.0,294.0 732.6,275.8 738.9,269.5 747.7,259.6 753.4,257.2 758.6,258.3 764.9,255.5 770.6,252.0 777.3,251.3 779.4,250.3 794.5,250.3" fill="none" stroke="#FF0080" stroke-width="1" stroke-linejoin="round" stroke-dasharray="18 6"/>
<polyline points="151.6,221.6 156.2,222.2 160.4,225.8 165.6,230.0 169.8,232.6 173.9,235.2 178.1,240.4 181.2,245.6 185.4,250.8 189.5,255.4 193.7,258.0 198.4,257.5 202.0,253.9 206.2,246.6 210.3,240.4 214.5,233.1 218.6,229.4 222.8,228.4 225.9,227.4 231.1,222.7 236.3,216.4 238.4,214.9 243.6,214.9 248.8,217.5 252.9,219.0 258.1,220.1 262.3,222.2 266.5,224.2 270.0,225.8 276.2,226.8 280.4,227.7 285.6,228.4 290.8,229.1 295.0,230.8 301.2,230.5 306.4,230.0 311.6,228.7 315.8,229.4 319.9,231.0 324.1,232.2 328.2,233.1 334.0,235.7 337.6,231.0 342.8,224.8 346.9,221.6 353.2,220.6 358.4,219.0 363.6,218.5 367.7,219.6 371.9,221.1 377.1,222.2 381.3,225.3 385.4,229.4 392.0,234.1 399.3,232.3 406.6,229.5 413.9,228.0 423.1,227.3 432.2,227.7 441.4,228.0 446.9,230.4 452.4,232.3 457.9,234.1 463.3,232.3 468.8,224.0 475.2,220.4 483.5,220.4 490.8,222.2 498.1,228.6 505.4,233.2 516.4,236.8 523.7,241.4 532.0,245.1 536.6,247.8 541.1,257.0 545.7,264.3 548.5,264.6 556.7,269.1 565.8,271.3 571.3,271.3 578.7,269.1 590.9,264.9 598.7,257.6 606.5,252.9 612.7,249.8 619.0,254.5 623.6,263.8 628.4,274.6 635.8,285.6 644.9,296.6 652.2,303.0 663.2,304.8 674.2,308.5 683.3,314.9 690.7,320.4 701.6,318.5 710.8,318.5 718.1,313.0 725.4,301.2 731.1,290.0 733.7,284.1 738.9,276.8 744.1,268.5 749.3,261.2 753.4,260.7 756.5,262.2 759.1,264.1 762.8,262.8 766.9,260.2 772.1,257.0 778.4,256.8 791.9,257.2 798.7,257.9" fill="none" stroke="#FF0080" stroke-width="2" stroke-linejoin="round" />
<polyline points="254.0,471.5 254.0,421.0 255.0,420.0 255.0,369.0 256.0,368.0 256.0,317.0 257.0,316.0 257.0,265.0 258.0,264.0 258.0,214.0 259.0,213.0 259.0,162.0 264.5,134.0 798.5,134.0" fill="none" stroke="#00FFFF" stroke-width="2" stroke-linejoin="round" />
<polyline points="151.8,120.4 155.5,138.7" fill="none" stroke="#8000FF" stroke-width="1" stroke-linejoin="round" />
<polyline points="159.2,145.0 161.9,150.5 173.8,158.8" fill="none" stroke="#8000FF" stroke-width="1" stroke-linejoin="round" />
<polyline points="179.3,154.2 186.6,146.9 195.8,138.3" fill="none" stroke="#8000FF" stroke-width="1" stroke-linejoin="round" />
<polyline points="202.2,134.0 204.9,133.2 215.0,147.8" fill="none" stroke="#8000FF" stroke-width="1" stroke-linejoin="round" />
<polyline points="219.5,151.0 221.4,150.5 227.8,135.9" fill="none" stroke="#8000FF" stroke-width="1" stroke-linejoin="round" />
<polyline points="234.2,132.3 244.3,139.6 251.6,137.7" fill="none" stroke="#8000FF" stroke-width="1" stroke-linejoin="round" />
<polyline points="258.9,133.2 265.3,132.3 273.5,121.3" fill="none" stroke="#8000FF" stroke-width="1" stroke-linejoin="round" />
<polyline points="280.0,119.5 297.3,119.5" fill="none" stroke="#8000FF" stroke-width="1" stroke-linejoin="round" />
<polyline points="303.7,119.5 313.8,119.5 322.0,123.7" fill="none" stroke="#8000FF" stroke-width="1" stroke-linejoin="round" />
<polyline points="328.5,126.2 333.0,127.3 341.3,138.7" fill="none" stroke="#8000FF" stroke-width="1" stroke-linejoin="round" />
<polyline points="344.0,146.9 351.3,163.4" fill="none" stroke="#8000FF" stroke-width="1" stroke-linejoin="round" />
<polyline points="360.5,164.6 372.7,171.9" fill="none" stroke="#8000FF" stroke-width="1" stroke-linejoin="round" />
<polyline points="380.1,173.7 387.4,170.1 392.9,169.1 396.5,171.9" fill="none" stroke="#8000FF" stroke-width="1" stroke-linejoin="round" />
<polyline points="402.9,177.4 410.3,177.4 415.8,186.5" fill="none" stroke="#8000FF" stroke-width="1" stroke-linejoin="round" />
<polyline points="420.3,178.3 437.7,177.4" fill="none" stroke="#8000FF" stroke-width="1" stroke-linejoin="round" />
<polyline points="444.1,177.4 461.5,177.4" fill="none" stroke="#8000FF" stroke-width="1" stroke-linejoin="round" />
<polyline points="467.9,177.4 485.3,177.4" fill="none" stroke="#8000FF" stroke-width="1" stroke-linejoin="round" />
<polyline points="492.6,177.4 500.0,169.1 506.4,164.0" fill="none" stroke="#8000FF" stroke-width="1" stroke-linejoin="round" />
<polyline points="512.8,160.0 523.7,160.0 530.2,156.0" fill="none" stroke="#8000FF" stroke-width="1" stroke-linejoin="round" />
<polyline points="537.5,155.1 543.9,147.8 550.3,139.0" fill="none" stroke="#8000FF" stroke-width="1" stroke-linejoin="round" />
<polyline points="555.8,133.2 573.2,125.0" fill="none" stroke="#8000FF" stroke-width="1" stroke-linejoin="round" />
<polyline points="580.5,126.2 590.0,133.2 595.5,138.7" fill="none" stroke="#8000FF" stroke-width="1" stroke-linejoin="round" />
<polyline points="598.2,146.0 603.7,160.9 608.3,170.1 614.7,173.2" fill="none" stroke="#8000FF" stroke-width="1" stroke-linejoin="round" />
<polyline points="618.0,172.5 622.0,170.1 622.9,167.7" fill="none" stroke="#8000FF" stroke-width="1" stroke-linejoin="round" />
<polyline points="627.5,160.6 633.9,154.2 639.4,144.5" fill="none" stroke="#8000FF" stroke-width="1" stroke-linejoin="round" />
<polyline points="644.9,136.8 653.1,127.7 660.5,123.7" fill="none" stroke="#8000FF" stroke-width="1" stroke-linejoin="round" />
<polyline points="667.8,119.5 672.4,116.7 684.3,112.7" fill="none" stroke="#8000FF" stroke-width="1" stroke-linejoin="round" />
<polyline points="691.6,111.6 708.1,111.6" fill="none" stroke="#8000FF" stroke-width="1" stroke-linejoin="round" />
<polyline points="715.4,111.6 722.7,111.6 729.1,115.2 732.8,115.2" fill="none" stroke="#8000FF" stroke-width="1" stroke-linejoin="round" />
<polyline points="739.2,115.2 744.7,115.2 753.8,127.7" fill="none" stroke="#8000FF" stroke-width="1" stroke-linejoin="round" />
<polyline points="759.3,132.3 765.7,133.5 776.7,140.5" fill="none" stroke="#8000FF" stroke-width="1" stroke-linejoin="round" />
<polyline points="783.1,140.5 798.7,140.5" fill="none" stroke="#8000FF" stroke-width="1" stroke-linejoin="round" />
<polyline points="151.5,103.9 156.4,114.0 163.7,119.5 172.0,123.7 178.4,123.7 183.0,117.0 190.3,113.4 197.6,109.4 204.0,108.0 210.4,113.0 215.9,116.7 221.4,114.0 226.0,106.6 232.4,103.9 241.5,109.4 249.8,109.4 258.9,104.8 265.3,99.7 271.7,98.8 323.0,98.8 334.9,99.7 340.4,103.0 346.8,114.9 351.3,122.2 356.8,123.7 369.6,126.2 376.4,131.7 393.8,131.7 403.9,143.8 414.8,143.8 420.3,139.9 426.7,139.6 433.1,135.0 438.6,133.2 442.3,132.8 446.9,128.6 454.2,125.9 460.6,123.7 468.8,124.4 478.0,132.3 485.3,139.6 491.7,139.6 500.0,134.1 506.4,131.0 512.8,128.0 523.7,127.7 529.2,125.9 535.6,124.9 541.1,121.3 547.5,114.9 553.0,111.2 562.2,107.2 570.4,105.7 577.7,106.1 586.0,106.6 593.7,108.5 599.2,116.7 604.6,125.9 609.2,135.0 612.9,136.8 618.4,135.9 623.9,129.5 632.1,123.1 639.4,116.7 644.9,114.0 653.1,109.8 659.5,107.2 666.9,106.6 675.1,103.4 691.6,103.0 696.2,99.9 703.5,98.8 728.2,98.8 734.6,100.6 739.2,103.5 743.7,103.9 749.2,107.2 754.7,109.8 761.1,107.9 766.6,108.5 770.3,110.9 798.7,110.9" fill="none" stroke="#800080" stroke-width="2" stroke-linejoin="round" />
<rect x="150" y="61" width="902" height="2" fill="#808080" />
<rect x="150" y="471" width="902" height="2" fill="#808080" />
<rect x="150" y="61" width="2" height="412" fill="#808080" />
<rect x="1050" y="61" width="2" height="412" fill="#808080" />
<rect x="152" y="471" width="101" height="1" fill="#00FFFF"/>
<rect x="255" y="471" width="544" height="1" fill="#FF00FF"/>
<rect x="253" y="421" width="2" height="51" fill="#00FFFF"/>
<line x1="40.5" y1="62" x2="40.5" y2="473" stroke="#808080" stroke-width="1" />
<line x1="36" y1="78.5" x2="44" y2="78.5" stroke="#808080" stroke-width="1" />
<text x="35" y="83" fill="#FF0080" text-anchor="end" font-size="11" font-weight="normal" >27.8</text>
<line x1="36" y1="127.5" x2="40" y2="127.5" stroke="#808080" stroke-width="1" />
<text x="35" y="132" fill="#FF0080" text-anchor="end" font-size="11" font-weight="normal" >22.8</text>
<line x1="36" y1="176.5" x2="40" y2="176.5" stroke="#808080" stroke-width="1" />
<text x="35" y="181" fill="#FF0080" text-anchor="end" font-size="11" font-weight="normal" >17.8</text>
<line x1="36" y1="226.5" x2="40" y2="226.5" stroke="#808080" stroke-width="1" />
<text x="35" y="231" fill="#FF0080" text-anchor="end" font-size="11" font-weight="normal" >12.8</text>
<line x1="36" y1="275.5" x2="40" y2="275.5" stroke="#808080" stroke-width="1" />
<text x="35" y="280" fill="#FF0080" text-anchor="end" font-size="11" font-weight="normal" >7.8</text>
<line x1="36" y1="324.5" x2="40" y2="324.5" stroke="#808080" stroke-width="1" />
<text x="35" y="329" fill="#FF0080" text-anchor="end" font-size="11" font-weight="normal" >2.8</text>
<line x1="36" y1="374.5" x2="40" y2="374.5" stroke="#808080" stroke-width="1" />
<text x="35" y="379" fill="#FF0080" text-anchor="end" font-size="11" font-weight="normal" >-2.2</text>
<line x1="36" y1="423.5" x2="40" y2="423.5" stroke="#808080" stroke-width="1" />
<text x="35" y="428" fill="#FF0080" text-anchor="end" font-size="11" font-weight="normal" >-7.2</text>
<line x1="36" y1="472.5" x2="44" y2="472.5" stroke="#808080" stroke-width="1" />
<text x="35" y="477" fill="#FF0080" text-anchor="end" font-size="11" font-weight="normal" >-12.2</text>
<text x="31" y="51" fill="#FF0080" text-anchor="end" font-size="11" font-weight="normal" >°C</text>
<line x1="77.5" y1="62" x2="77.5" y2="473" stroke="#808080" stroke-width="1" />
<line x1="73" y1="62.5" x2="81" y2="62.5" stroke="#808080" stroke-width="1" />
<text x="72" y="67" fill="#00FF00" text-anchor="end" font-size="11" font-weight="normal" >1030</text>
<line x1="73" y1="113.5" x2="77" y2="113.5" stroke="#808080" stroke-width="1" />
<text x="72" y="118" fill="#00FF00" text-anchor="end" font-size="11" font-weight="normal" >1025</text>
<line x1="73" y1="164.5" x2="77" y2="164.5" stroke="#808080" stroke-width="1" />
<text x="72" y="169" fill="#00FF00" text-anchor="end" font-size="11" font-weight="normal" >1020</text>
<line x1="73" y1="216.5" x2="77" y2="216.5" stroke="#808080" stroke-width="1" />
<text x="72" y="221" fill="#00FF00" text-anchor="end" font-size="11" font-weight="normal" >1015</text>
<line x1="73" y1="267.5" x2="77" y2="267.5" stroke="#808080" stroke-width="1" />
<text x="72" y="272" fill="#00FF00" text-anchor="end" font-size="11" font-weight="normal" >1010</text>
<line x1="73" y1="318.5" x2="77" y2="318.5" stroke="#808080" stroke-width="1" />
<text x="72" y="323" fill="#00FF00" text-anchor="end" font-size="11" font-weight="normal" >1005</text>
<line x1="73" y1="370.5" x2="77" y2="370.5" stroke="#808080" stroke-width="1" />
<text x="72" y="375" fill="#00FF00" text-anchor="end" font-size="11" font-weight="normal" >1000</text>
<line x1="73" y1="421.5" x2="77" y2="421.5" stroke="#808080" stroke-width="1" />
<text x="72" y="426" fill="#00FF00" text-anchor="end" font-size="11" font-weight="normal" >995</text>
<line x1="73" y1="472.5" x2="81" y2="472.5" stroke="#808080" stroke-width="1" />
<text x="72" y="477" fill="#00FF00" text-anchor="end" font-size="11" font-weight="normal" >990</text>
<text x="49" y="51" fill="#00FF00" text-anchor="start" font-size="11" font-weight="normal" >hPa</text>
<line x1="114.5" y1="62" x2="114.5" y2="473" stroke="#808080" stroke-width="1" />
<line x1="110" y1="106.5" x2="118" y2="106.5" stroke="#808080" stroke-width="1" />
<text x="109" y="111" fill="#000" text-anchor="end" font-size="11" font-weight="normal" >20.0</text>
<line x1="110" y1="198.5" x2="114" y2="198.5" stroke="#808080" stroke-width="1" />
<text x="109" y="203" fill="#000" text-anchor="end" font-size="11" font-weight="normal" >15.0</text>
<line x1="110" y1="289.5" x2="114" y2="289.5" stroke="#808080" stroke-width="1" />
<text x="109" y="294" fill="#000" text-anchor="end" font-size="11" font-weight="normal" >10.0</text>
<line x1="110" y1="380.5" x2="114" y2="380.5" stroke="#808080" stroke-width="1" />
<text x="109" y="385" fill="#000" text-anchor="end" font-size="11" font-weight="normal" >5.0</text>
<line x1="110" y1="472.5" x2="118" y2="472.5" stroke="#808080" stroke-width="1" />
<text x="109" y="477" fill="#000" text-anchor="end" font-size="11" font-weight="normal" >0.0</text>
<text x="86" y="51" fill="#000" text-anchor="start" font-size="11" font-weight="normal" >m/s</text>
<line x1="147" y1="62.5" x2="150" y2="62.5" stroke="#808080" stroke-width="1" />
<text x="145" y="67" fill="#FFD898" text-anchor="end" font-size="11" font-weight="normal" >10</text>
<line x1="147" y1="103.5" x2="150" y2="103.5" stroke="#808080" stroke-width="1" />
<text x="145" y="108" fill="#FFD898" text-anchor="end" font-size="11" font-weight="normal" >9</text>
<line x1="147" y1="144.5" x2="150" y2="144.5" stroke="#808080" stroke-width="1" />
<text x="145" y="149" fill="#FFD898" text-anchor="end" font-size="11" font-weight="normal" >8</text>
<line x1="147" y1="185.5" x2="150" y2="185.5" stroke="#808080" stroke-width="1" />
<text x="145" y="190" fill="#FFD898" text-anchor="end" font-size="11" font-weight="normal" >7</text>
<line x1="147" y1="226.5" x2="150" y2="226.5" stroke="#808080" stroke-width="1" />
<text x="145" y="231" fill="#FFD898" text-anchor="end" font-size="11" font-weight="normal" >6</text>
<line x1="147" y1="267.5" x2="150" y2="267.5" stroke="#808080" stroke-width="1" />
<text x="145" y="272" fill="#FFD898" text-anchor="end" font-size="11" font-weight="normal" >5</text>
<line x1="147" y1="308.5" x2="150" y2="308.5" stroke="#808080" stroke-width="1" />
<text x="145" y="313" fill="#FFD898" text-anchor="end" font-size="11" font-weight="normal" >4</text>
<line x1="147" y1="349.5" x2="150" y2="349.5" stroke="#808080" stroke-width="1" />
<text x="145" y="354" fill="#FFD898" text-anchor="end" font-size="11" font-weight="normal" >3</text>
<line x1="147" y1="390.5" x2="150" y2="390.5" stroke="#808080" stroke-width="1" />
<text x="145" y="395" fill="#FFD898" text-anchor="end" font-size="11" font-weight="normal" >2</text>
<line x1="147" y1="431.5" x2="150" y2="431.5" stroke="#808080" stroke-width="1" />
<text x="145" y="436" fill="#FFD898" text-anchor="end" font-size="11" font-weight="normal" >1</text>
<line x1="147" y1="472.5" x2="150" y2="472.5" stroke="#808080" stroke-width="1" />
<text x="145" y="477" fill="#FFD898" text-anchor="end" font-size="11" font-weight="normal" >0</text>
<line x1="151.5" y1="473" x2="151.5" y2="477" stroke="#808080" stroke-width="1" />
<text x="136" y="51" fill="#FFD898" text-anchor="start" font-size="11" font-weight="normal" >u</text>
<line x1="1052" y1="62.5" x2="1056" y2="62.5" stroke="#808080" stroke-width="1" />
<text x="1058" y="67" fill="#800080" text-anchor="start" font-size="11" font-weight="normal" >100</text>
<line x1="1052" y1="103.5" x2="1056" y2="103.5" stroke="#808080" stroke-width="1" />
<text x="1058" y="108" fill="#800080" text-anchor="start" font-size="11" font-weight="normal" >90</text>
<line x1="1052" y1="144.5" x2="1056" y2="144.5" stroke="#808080" stroke-width="1" />
<text x="1058" y="149" fill="#800080" text-anchor="start" font-size="11" font-weight="normal" >80</text>
<line x1="1052" y1="185.5" x2="1056" y2="185.5" stroke="#808080" stroke-width="1" />
<text x="1058" y="190" fill="#800080" text-anchor="start" font-size="11" font-weight="normal" >70</text>
<line x1="1052" y1="226.5" x2="1056" y2="226.5" stroke="#808080" stroke-width="1" />
<text x="1058" y="231" fill="#800080" text-anchor="start" font-size="11" font-weight="normal" >60</text>
<line x1="1052" y1="267.5" x2="1056" y2="267.5" stroke="#808080" stroke-width="1" />
<text x="1058" y="272" fill="#800080" text-anchor="start" font-size="11" font-weight="normal" >50</text>
<line x1="1052" y1="308.5" x2="1056" y2="308.5" stroke="#808080" stroke-width="1" />
<text x="1058" y="313" fill="#800080" text-anchor="start" font-size="11" font-weight="normal" >40</text>
<line x1="1052" y1="349.5" x2="1056" y2="349.5" stroke="#808080" stroke-width="1" />
<text x="1058" y="354" fill="#800080" text-anchor="start" font-size="11" font-weight="normal" >30</text>
<line x1="1052" y1="390.5" x2="1056" y2="390.5" stroke="#808080" stroke-width="1" />
<text x="1058" y="395" fill="#800080" text-anchor="start" font-size="11" font-weight="normal" >20</text>
<line x1="1052" y1="431.5" x2="1056" y2="431.5" stroke="#808080" stroke-width="1" />
<text x="1058" y="436" fill="#800080" text-anchor="start" font-size="11" font-weight="normal" >10</text>
<line x1="1052" y1="472.5" x2="1056" y2="472.5" stroke="#808080" stroke-width="1" />
<text x="1058" y="477" fill="#800080" text-anchor="start" font-size="11" font-weight="normal" >0</text>
<text x="1052" y="51" fill="#800080" text-anchor="start" font-size="11" font-weight="normal" >%</text>
<line x1="1088.5" y1="62" x2="1088.5" y2="473" stroke="#808080" stroke-width="1" />
<line x1="1084" y1="62.5" x2="1093" y2="62.5" stroke="#808080" stroke-width="1" />
<text x="1095" y="67" fill="#00FFFF" text-anchor="start" font-size="11" font-weight="normal" >10.0</text>
<line x1="1089" y1="103.5" x2="1093" y2="103.5" stroke="#808080" stroke-width="1" />
<text x="1095" y="108" fill="#00FFFF" text-anchor="start" font-size="11" font-weight="normal" >9.0</text>
<line x1="1089" y1="144.5" x2="1093" y2="144.5" stroke="#808080" stroke-width="1" />
<text x="1095" y="149" fill="#00FFFF" text-anchor="start" font-size="11" font-weight="normal" >8.0</text>
<line x1="1089" y1="185.5" x2="1093" y2="185.5" stroke="#808080" stroke-width="1" />
<text x="1095" y="190" fill="#00FFFF" text-anchor="start" font-size="11" font-weight="normal" >7.0</text>
<line x1="1089" y1="226.5" x2="1093" y2="226.5" stroke="#808080" stroke-width="1" />
<text x="1095" y="231" fill="#00FFFF" text-anchor="start" font-size="11" font-weight="normal" >6.0</text>
<line x1="1089" y1="267.5" x2="1093" y2="267.5" stroke="#808080" stroke-width="1" />
<text x="1095" y="272" fill="#00FFFF" text-anchor="start" font-size="11" font-weight="normal" >5.0</text>
<line x1="1089" y1="308.5" x2="1093" y2="308.5" stroke="#808080" stroke-width="1" />
<text x="1095" y="313" fill="#00FFFF" text-anchor="start" font-size="11" font-weight="normal" >4.0</text>
<line x1="1089" y1="349.5" x2="1093" y2="349.5" stroke="#808080" stroke-width="1" />
<text x="1095" y="354" fill="#00FFFF" text-anchor="start" font-size="11" font-weight="normal" >3.0</text>
<line x1="1089" y1="390.5" x2="1093" y2="390.5" stroke="#808080" stroke-width="1" />
<text x="1095" y="395" fill="#00FFFF" text-anchor="start" font-size="11" font-weight="normal" >2.0</text>
<line x1="1089" y1="431.5" x2="1093" y2="431.5" stroke="#808080" stroke-width="1" />
<text x="1095" y="436" fill="#00FFFF" text-anchor="start" font-size="11" font-weight="normal" >1.0</text>
<line x1="1084" y1="472.5" x2="1093" y2="472.5" stroke="#808080" stroke-width="1" />
<text x="1095" y="477" fill="#00FFFF" text-anchor="start" font-size="11" font-weight="normal" >0.0</text>
<text x="1089" y="51" fill="#00FFFF" text-anchor="start" font-size="11" font-weight="normal" >mm</text>
<line x1="1125.5" y1="62" x2="1125.5" y2="473" stroke="#808080" stroke-width="1" />
<line x1="1121" y1="62.5" x2="1130" y2="62.5" stroke="#808080" stroke-width="1" />
<text x="1132" y="67" fill="#808080" text-anchor="start" font-size="11" font-weight="normal" >360</text>
<line x1="1126" y1="96.5" x2="1130" y2="96.5" stroke="#808080" stroke-width="1" />
<text x="1132" y="101" fill="#808080" text-anchor="start" font-size="11" font-weight="normal" >330</text>
<line x1="1126" y1="130.5" x2="1130" y2="130.5" stroke="#808080" stroke-width="1" />
<text x="1132" y="135" fill="#808080" text-anchor="start" font-size="11" font-weight="normal" >300</text>
<line x1="1126" y1="164.5" x2="1130" y2="164.5" stroke="#808080" stroke-width="1" />
<text x="1132" y="169" fill="#808080" text-anchor="start" font-size="11" font-weight="normal" >270</text>
<line x1="1126" y1="199.5" x2="1130" y2="199.5" stroke="#808080" stroke-width="1" />
<text x="1132" y="204" fill="#808080" text-anchor="start" font-size="11" font-weight="normal" >240</text>
<line x1="1126" y1="233.5" x2="1130" y2="233.5" stroke="#808080" stroke-width="1" />
<text x="1132" y="238" fill="#808080" text-anchor="start" font-size="11" font-weight="normal" >210</text>
<line x1="1126" y1="267.5" x2="1130" y2="267.5" stroke="#808080" stroke-width="1" />
<text x="1132" y="272" fill="#808080" text-anchor="start" font-size="11" font-weight="normal" >180</text>
<line x1="1126" y1="301.5" x2="1130" y2="301.5" stroke="#808080" stroke-width="1" />
<text x="1132" y="306" fill="#808080" text-anchor="start" font-size="11" font-weight="normal" >150</text>
<line x1="1126" y1="335.5" x2="1130" y2="335.5" stroke="#808080" stroke-width="1" />
<text x="1132" y="340" fill="#808080" text-anchor="start" font-size="11" font-weight="normal" >120</text>
<line x1="1126" y1="370.5" x2="1130" y2="370.5" stroke="#808080" stroke-width="1" />
<text x="1132" y="375" fill="#808080" text-anchor="start" font-size="11" font-weight="normal" >90</text>
<line x1="1126" y1="404.5" x2="1130" y2="404.5" stroke="#808080" stroke-width="1" />
<text x="1132" y="409" fill="#808080" text-anchor="start" font-size="11" font-weight="normal" >60</text>
<line x1="1126" y1="438.5" x2="1130" y2="438.5" stroke="#808080" stroke-width="1" />
<text x="1132" y="443" fill="#808080" text-anchor="start" font-size="11" font-weight="normal" >30</text>
<line x1="1121" y1="472.5" x2="1130" y2="472.5" stroke="#808080" stroke-width="1" />
<text x="1132" y="477" fill="#808080" text-anchor="start" font-size="11" font-weight="normal" >0</text>
<text x="1152.5" y="67" fill="#808080" text-anchor="start" font-size="11" font-weight="normal" >N</text>
<text x="1152.5" y="169" fill="#808080" text-anchor="start" font-size="11" font-weight="normal" >W</text>
<text x="1152.5" y="272" fill="#808080" text-anchor="start" font-size="11" font-weight="normal" >Z</text>
<text x="1152.5" y="375" fill="#808080" text-anchor="start" font-size="11" font-weight="normal" >O</text>
<text x="1150" y="477" fill="#808080" text-anchor="start" font-size="11" font-weight="normal" >N</text>
<text x="1126" y="47" fill="#808080" text-anchor="start" font-size="11" font-weight="normal" >°</text>
<line x1="1162.5" y1="62" x2="1162.5" y2="473" stroke="#808080" stroke-width="1" />
<line x1="1158" y1="62.5" x2="1167" y2="62.5" stroke="#808080" stroke-width="1" />
<text x="1169" y="67" fill="#FF00FF" text-anchor="start" font-size="11" font-weight="normal" >10.0</text>
<line x1="1163" y1="103.5" x2="1167" y2="103.5" stroke="#808080" stroke-width="1" />
<text x="1169" y="108" fill="#FF00FF" text-anchor="start" font-size="11" font-weight="normal" >9.0</text>
<line x1="1163" y1="144.5" x2="1167" y2="144.5" stroke="#808080" stroke-width="1" />
<text x="1169" y="149" fill="#FF00FF" text-anchor="start" font-size="11" font-weight="normal" >8.0</text>
<line x1="1163" y1="185.5" x2="1167" y2="185.5" stroke="#808080" stroke-width="1" />
<text x="1169" y="190" fill="#FF00FF" text-anchor="start" font-size="11" font-weight="normal" >7.0</text>
<line x1="1163" y1="226.5" x2="1167" y2="226.5" stroke="#808080" stroke-width="1" />
<text x="1169" y="231" fill="#FF00FF" text-anchor="start" font-size="11" font-weight="normal" >6.0</text>
<line x1="1163" y1="267.5" x2="1167" y2="267.5" stroke="#808080" stroke-width="1" />
<text x="1169" y="272" fill="#FF00FF" text-anchor="start" font-size="11" font-weight="normal" >5.0</text>
<line x1="1163" y1="308.5" x2="1167" y2="308.5" stroke="#808080" stroke-width="1" />
<text x="1169" y="313" fill="#FF00FF" text-anchor="start" font-size="11" font-weight="normal" >4.0</text>
<line x1="1163" y1="349.5" x2="1167" y2="349.5" stroke="#808080" stroke-width="1" />
<text x="1169" y="354" fill="#FF00FF" text-anchor="start" font-size="11" font-weight="normal" >3.0</text>
<line x1="1163" y1="390.5" x2="1167" y2="390.5" stroke="#808080" stroke-width="1" />
<text x="1169" y="395" fill="#FF00FF" text-anchor="start" font-size="11" font-weight="normal" >2.0</text>
<line x1="1163" y1="431.5" x2="1167" y2="431.5" stroke="#808080" stroke-width="1" />
<text x="1169" y="436" fill="#FF00FF" text-anchor="start" font-size="11" font-weight="normal" >1.0</text>
<line x1="1158" y1="472.5" x2="1167" y2="472.5" stroke="#808080" stroke-width="1" />
<text x="1169" y="477" fill="#FF00FF" text-anchor="start" font-size="11" font-weight="normal" >0.0</text>
<text x="1163" y="51" fill="#FF00FF" text-anchor="start" font-size="11" font-weight="normal" >UV-I</text>
<text x="137" y="491" fill="#000" text-anchor="start" font-size="11" font-weight="normal" >08.12.</text>
<text x="173" y="491" fill="#000" text-anchor="start" font-size="11" font-weight="normal" >ma</text>
<text x="266" y="491" fill="#000" text-anchor="start" font-size="11" font-weight="normal" >09.12.</text>
<text x="302" y="491" fill="#000" text-anchor="start" font-size="11" font-weight="normal" >di</text>
<text x="396" y="491" fill="#000" text-anchor="start" font-size="11" font-weight="normal" >10.12.</text>
<text x="432" y="491" fill="#000" text-anchor="start" font-size="11" font-weight="normal" >wo</text>
<text x="525" y="491" fill="#000" text-anchor="start" font-size="11" font-weight="normal" >11.12.</text>
<text x="561" y="491" fill="#000" text-anchor="start" font-size="11" font-weight="normal" >do</text>
<text x="654" y="491" fill="#000" text-anchor="start" font-size="11" font-weight="normal" >12.12.</text>
<text x="690" y="491" fill="#000" text-anchor="start" font-size="11" font-weight="normal" >vr</text>
<text x="784" y="491" fill="#000" text-anchor="start" font-size="11" font-weight="normal" >13.12.</text>
<text x="820" y="491" fill="#000" text-anchor="start" font-size="11" font-weight="normal" >za</text>
<text x="913" y="491" fill="#000" text-anchor="start" font-size="11" font-weight="normal" >14.12.</text>
<text x="949" y="491" fill="#000" text-anchor="start" font-size="11" font-weight="normal" >zo</text>
<text x="9" y="523" fill="#000" text-anchor="start" font-size="11" font-weight="bold" xml:space="preserve">Sensor</text>
<text x="9" y="539" fill="#000" text-anchor="start" font-size="11" font-weight="bold" xml:space="preserve">Min. waarde</text>
<text x="9" y="555" fill="#000" text-anchor="start" font-size="11" font-weight="bold" xml:space="preserve">Max. waarde</text>
<text x="9" y="571" fill="#000" text-anchor="start" font-size="11" font-weight="bold" xml:space="preserve">Gemiddelde</text>
<text x="95" y="523" fill="#000" text-anchor="start" font-size="11" font-weight="bold" xml:space="preserve">Temp1@2,5m</text>
<text x="199" y="523" fill="#000" text-anchor="end" font-size="11" font-weight="bold" >°C</text>
<text x="95" y="539" fill="#000" text-anchor="start" font-size="11" font-weight="normal" xml:space="preserve">12-12-  04:40</text>
<text x="199" y="539" fill="#000" text-anchor="end" font-size="11" font-weight="normal" >3.0</text>
<text x="95" y="555" fill="#000" text-anchor="start" font-size="11" font-weight="normal" xml:space="preserve">08-12-  16:40</text>
<text x="199" y="555" fill="#000" text-anchor="end" font-size="11" font-weight="normal" >14.0</text>
<text x="199" y="571" fill="#000" text-anchor="end" font-size="11" font-weight="normal" >10.34</text>
<text x="212" y="523" fill="#000" text-anchor="start" font-size="11" font-weight="bold" xml:space="preserve">R.V.1@2,5m</text>
<text x="317" y="523" fill="#000" text-anchor="end" font-size="11" font-weight="bold" >%</text>
<text x="212" y="539" fill="#000" text-anchor="start" font-size="11" font-weight="normal" xml:space="preserve">09-12-  23:00</text>
<text x="317" y="539" fill="#000" text-anchor="end" font-size="11" font-weight="normal" >80</text>
<text x="212" y="555" fill="#000" text-anchor="start" font-size="11" font-weight="normal" xml:space="preserve">08-12-  00:00</text>
<text x="317" y="555" fill="#000" text-anchor="end" font-size="11" font-weight="normal" >91</text>
<text x="317" y="571" fill="#000" text-anchor="end" font-size="11" font-weight="normal" >87</text>
<text x="330" y="523" fill="#000" text-anchor="start" font-size="11" font-weight="bold" xml:space="preserve">Luchtdr.</text>
<text x="435" y="523" fill="#000" text-anchor="end" font-size="11" font-weight="bold" >hPa</text>
<text x="330" y="539" fill="#000" text-anchor="start" font-size="11" font-weight="normal" xml:space="preserve">08-12-  00:00</text>
<text x="435" y="539" fill="#000" text-anchor="end" font-size="11" font-weight="normal" >1003.4</text>
<text x="330" y="555" fill="#000" text-anchor="start" font-size="11" font-weight="normal" xml:space="preserve">13-12-  00:00</text>
<text x="435" y="555" fill="#000" text-anchor="end" font-size="11" font-weight="normal" >1023.4</text>
<text x="330" y="571" fill="#000" text-anchor="start" font-size="11" font-weight="normal" xml:space="preserve">^1.3hPa/u</text>
<text x="435" y="571" fill="#000" text-anchor="end" font-size="11" font-weight="normal" >1015.8</text>
<text x="448" y="523" fill="#000" text-anchor="start" font-size="11" font-weight="bold" xml:space="preserve">Windsnelheid</text>
<text x="553" y="523" fill="#000" text-anchor="end" font-size="11" font-weight="bold" >m/s</text>
<text x="448" y="539" fill="#000" text-anchor="start" font-size="11" font-weight="normal" xml:space="preserve">11-12-  20:00</text>
<text x="553" y="539" fill="#000" text-anchor="end" font-size="11" font-weight="normal" >0.0</text>
<text x="448" y="555" fill="#000" text-anchor="start" font-size="11" font-weight="normal" xml:space="preserve">08-12-  02:00</text>
<text x="553" y="555" fill="#000" text-anchor="end" font-size="11" font-weight="normal" >3.1</text>
<text x="448" y="571" fill="#000" text-anchor="start" font-size="11" font-weight="normal" xml:space="preserve">506.2 km</text>
<text x="553" y="571" fill="#000" text-anchor="end" font-size="11" font-weight="normal" >1.2</text>
<text x="566" y="523" fill="#000" text-anchor="start" font-size="11" font-weight="bold" xml:space="preserve">Windrichting</text>
<text x="566" y="539" fill="#000" text-anchor="start" font-size="11" font-weight="normal" xml:space="preserve">08-12-  16:40</text>
<text x="671" y="539" fill="#000" text-anchor="end" font-size="11" font-weight="normal" >N-NO</text>
<text x="566" y="555" fill="#000" text-anchor="start" font-size="11" font-weight="normal" xml:space="preserve">12-12-  11:20</text>
<text x="671" y="555" fill="#000" text-anchor="end" font-size="11" font-weight="normal" >N</text>
<text x="671" y="571" fill="#000" text-anchor="end" font-size="11" font-weight="normal" >Z</text>
<text x="684" y="523" fill="#000" text-anchor="start" font-size="11" font-weight="bold" xml:space="preserve">Regen</text>
<text x="789" y="523" fill="#000" text-anchor="end" font-size="11" font-weight="bold" >mm</text>
<text x="684" y="555" fill="#000" text-anchor="start" font-size="11" font-weight="normal" xml:space="preserve">08-12-  20:20</text>
<text x="789" y="555" fill="#000" text-anchor="end" font-size="11" font-weight="normal" >7.6</text>
<text x="684" y="571" fill="#000" text-anchor="start" font-size="11" font-weight="normal" xml:space="preserve">Totaal:</text>
<text x="789" y="571" fill="#000" text-anchor="end" font-size="11" font-weight="normal" >8.2</text>
<text x="802" y="523" fill="#000" text-anchor="start" font-size="11" font-weight="bold" xml:space="preserve">Licht-niveau</text>
<text x="907" y="523" fill="#000" text-anchor="end" font-size="11" font-weight="bold" >%</text>
<text x="802" y="539" fill="#000" text-anchor="start" font-size="11" font-weight="normal" xml:space="preserve">Elevation</text>
<text x="907" y="539" fill="#000" text-anchor="end" font-size="11" font-weight="normal" >-60.398</text>
<text x="802" y="555" fill="#000" text-anchor="start" font-size="11" font-weight="normal" xml:space="preserve">11-12-  12:40</text>
<text x="907" y="555" fill="#000" text-anchor="end" font-size="11" font-weight="normal" >78</text>
<text x="802" y="571" fill="#000" text-anchor="start" font-size="11" font-weight="normal" xml:space="preserve">0 min.</text>
<text x="907" y="571" fill="#000" text-anchor="end" font-size="11" font-weight="normal" >11</text>
<text x="920" y="523" fill="#000" text-anchor="start" font-size="11" font-weight="bold" xml:space="preserve">PMV 0:8</text>
<text x="920" y="539" fill="#000" text-anchor="start" font-size="11" font-weight="normal" xml:space="preserve">WC 9.5 °C</text>
<text x="920" y="555" fill="#000" text-anchor="start" font-size="11" font-weight="normal" xml:space="preserve">DP 7.6 °C</text>
<text x="920" y="571" fill="#000" text-anchor="start" font-size="11" font-weight="normal" xml:space="preserve">1.9hPa/3u</text>
</g>
</svg>
</body></html>
